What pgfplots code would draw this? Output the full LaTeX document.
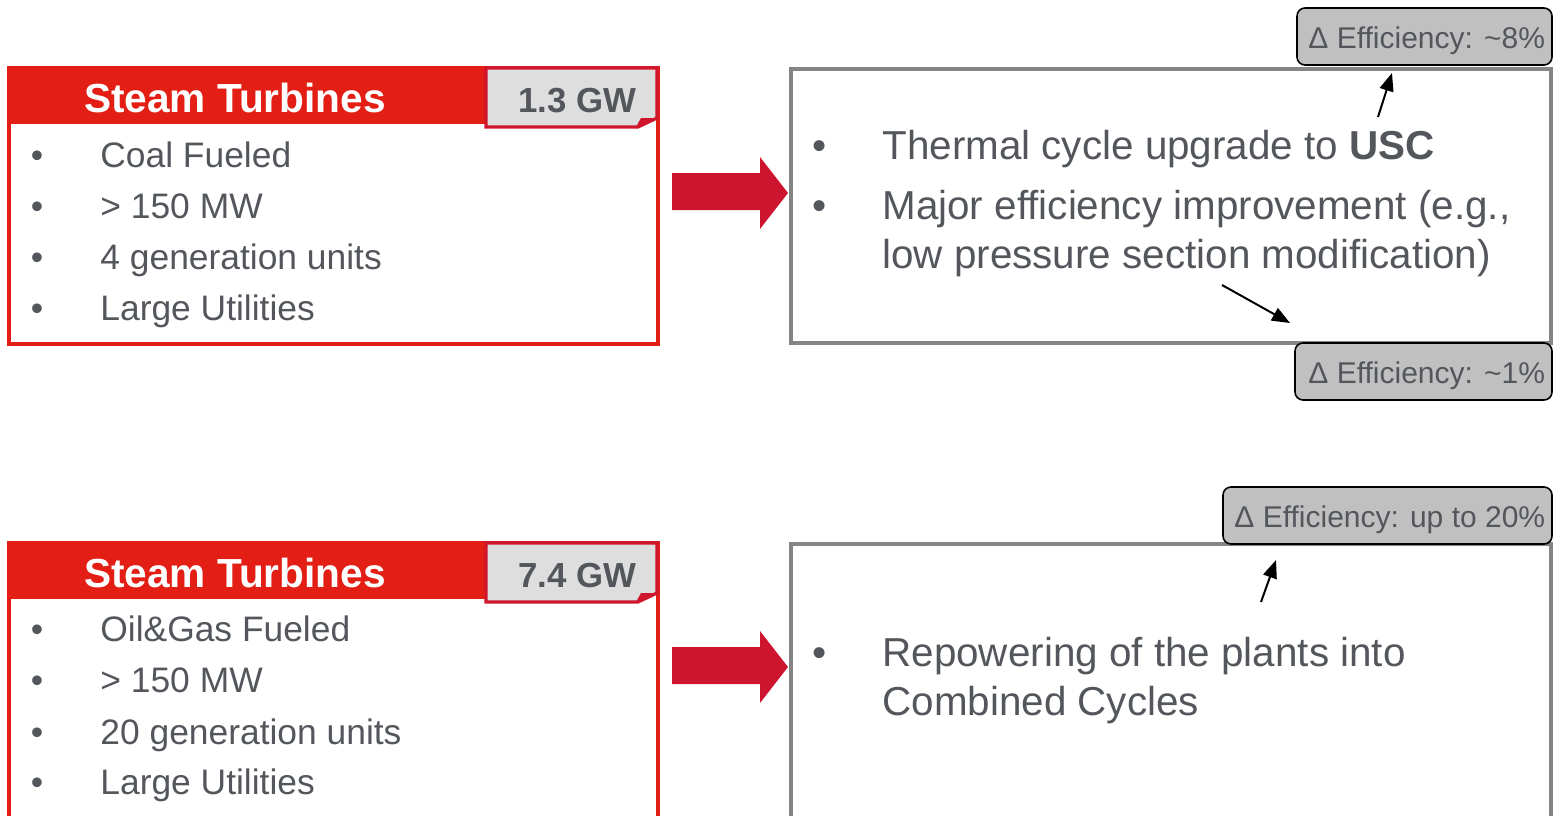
\documentclass[border=0pt]{standalone}
\usepackage{pgfplots}
\pgfplotsset{compat=1.18}
\usetikzlibrary{arrows.meta}
\usepackage{fontspec}
\setmainfont{Liberation Sans}
\definecolor{hdrred}{HTML}{E31E14}
\definecolor{boxred}{HTML}{D0162C}
\definecolor{arrred}{HTML}{CE1530}
\definecolor{txt}{HTML}{53575C}
\definecolor{gbord}{HTML}{858585}
\definecolor{dfill}{HTML}{C0C0C0}
\definecolor{gwfill}{HTML}{DEDEDE}
\tikzset{
  lt/.style={font=\fontsize{17.7}{21}\selectfont, text=txt, anchor=base west, inner sep=0pt},
  lb/.style={font=\fontsize{17.7}{21}\selectfont, text=txt, anchor=base, inner sep=0pt},
  rt/.style={font=\fontsize{20.2}{24}\selectfont, text=txt, anchor=base west, inner sep=0pt},
  rb/.style={font=\fontsize{20.2}{24}\selectfont, text=txt, anchor=base, inner sep=0pt},
  hd/.style={font=\fontsize{20.3}{24}\selectfont\bfseries, text=white, anchor=base, inner sep=0pt},
  gw/.style={font=\fontsize{17.4}{21}\selectfont\bfseries, text=txt, anchor=base, inner sep=0pt},
  dt/.style={font=\fontsize{15}{18}\selectfont, text=txt, anchor=base west, inner sep=0pt},
  sa/.style={line width=1pt, -{Triangle[length=9pt,width=7pt]}},
}
\begin{document}
\begin{tikzpicture}
\begin{axis}[scale only axis, width=776.5pt, height=407.5pt,
  xmin=0, xmax=1553, ymin=0, ymax=815, y dir=reverse,
  hide axis, clip=true, no markers]
% ---------- top left box ----------
\addplot[draw=none, fill=hdrred] coordinates {(9,68) (487,68) (487,124) (9,124)} -- cycle;
\addplot[draw=hdrred, line width=1.6pt] coordinates {(9,68) (658,68) (658,344) (9,344)} -- cycle;
\addplot[draw=boxred, fill=gwfill, line width=1.6pt] coordinates {(486,68) (657,68) (657,118) (638,127) (486,127)} -- cycle;
\addplot[draw=none, fill=boxred] coordinates {(636,127) (641,118) (657,118)} -- cycle;
% ---------- bottom left box ----------
\addplot[draw=none, fill=hdrred] coordinates {(9,543) (487,543) (487,599) (9,599)} -- cycle;
\addplot[draw=hdrred, line width=1.6pt] coordinates {(9,830) (9,543) (658,543) (658,830)};
\addplot[draw=boxred, fill=gwfill, line width=1.6pt] coordinates {(486,543) (657,543) (657,593) (638,602) (486,602)} -- cycle;
\addplot[draw=none, fill=boxred] coordinates {(636,602) (641,593) (657,593)} -- cycle;
% ---------- red arrows ----------
\addplot[draw=none, fill=arrred] coordinates {(672,173) (760,173) (760,157) (788,193) (760,229) (760,210) (672,210)} -- cycle;
\addplot[draw=none, fill=arrred] coordinates {(672,647) (760,647) (760,631) (788,667) (760,703) (760,684) (672,684)} -- cycle;
% ---------- right boxes ----------
\addplot[draw=gbord, line width=2pt] coordinates {(791,69) (1551,69) (1551,343) (791,343)} -- cycle;
\addplot[draw=gbord, line width=2pt] coordinates {(791,830) (791,544) (1551,544) (1551,830)};
% ---------- delta boxes ----------
\draw[rounded corners=4pt, fill=dfill, draw=black, line width=0.8pt] (axis cs:1297,8) rectangle (axis cs:1552,65);
\draw[rounded corners=4pt, fill=dfill, draw=black, line width=0.8pt] (axis cs:1295,343) rectangle (axis cs:1552,400);
\draw[rounded corners=4pt, fill=dfill, draw=black, line width=0.8pt] (axis cs:1223,487) rectangle (axis cs:1552,544);
% ---------- small arrows ----------
\draw[sa] (axis cs:1378,117) -- (axis cs:1392,73);
\draw[sa] (axis cs:1222,285) -- (axis cs:1290,323);
\draw[sa] (axis cs:1261,602) -- (axis cs:1276,560);
% ---------- texts top left ----------
\node[hd] at (axis cs:235,112) {Steam Turbines};
\node[gw] at (axis cs:577,112) {1.3 GW};
\node[lb] at (axis cs:37,167) {•};
\node[lb] at (axis cs:37,218) {•};
\node[lb] at (axis cs:37,269) {•};
\node[lb] at (axis cs:37,320) {•};
\node[lt] at (axis cs:100,167) {Coal Fueled};
\node[lt] at (axis cs:100,218) {> 150 MW};
\node[lt] at (axis cs:100,269) {4 generation units};
\node[lt] at (axis cs:100,320) {Large Utilities};
% ---------- texts bottom left ----------
\node[hd] at (axis cs:235,587) {Steam Turbines};
\node[gw] at (axis cs:577,587) {7.4 GW};
\node[lb] at (axis cs:37,641) {•};
\node[lb] at (axis cs:37,692) {•};
\node[lb] at (axis cs:37,744) {•};
\node[lb] at (axis cs:37,794) {•};
\node[lt] at (axis cs:100,641) {Oil\&Gas Fueled};
\node[lt] at (axis cs:100,692) {> 150 MW};
\node[lt] at (axis cs:100,744) {20 generation units};
\node[lt] at (axis cs:100,794) {Large Utilities};
% ---------- texts right ----------
\node[rb] at (axis cs:820,159) {•};
\node[rb] at (axis cs:820,219) {•};
\node[rt] at (axis cs:882,159) {Thermal cycle upgrade to \textbf{USC}};
\node[rt] at (axis cs:882,219) {Major efficiency improvement (e.g.,};
\node[rt] at (axis cs:882,268) {low pressure section modification)};
\node[rb] at (axis cs:820,666) {•};
\node[rt] at (axis cs:882,666) {Repowering of the plants into};
\node[rt] at (axis cs:882,715) {Combined Cycles};
% ---------- delta texts ----------
\node[dt] at (axis cs:1308,48) {Δ Efficiency: \textasciitilde 8\%};
\node[dt] at (axis cs:1308,383) {Δ Efficiency: \textasciitilde 1\%};
\node[dt] at (axis cs:1234,527) {Δ Efficiency: up to 20\%};
\end{axis}
\pgfresetboundingbox
\path[use as bounding box] (current axis.south west) rectangle (current axis.north east);
\end{tikzpicture}
\end{document}
